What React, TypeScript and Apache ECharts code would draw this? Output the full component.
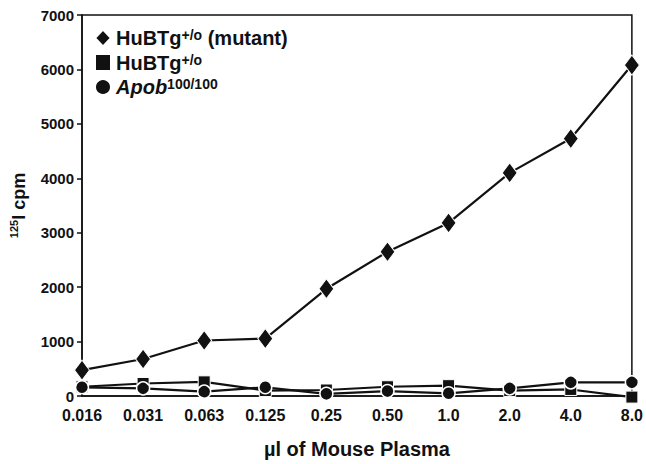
import React, { useEffect, useRef } from "react";
import * as echarts from "echarts";

const categories = ["0.016", "0.031", "0.063", "0.125", "0.25", "0.50", "1.0", "2.0", "4.0", "8.0"];
const mutantValues = [475, 680, 1020, 1055, 1970, 2650, 3180, 4100, 4730, 6080];
const hubtgValues = [170, 230, 260, 100, 110, 170, 190, 100, 120, -20];
const apobValues = [160, 140, 80, 160, 40, 90, 50, 140, 250, 250];
const yTicks = { min: 0, max: 7000, interval: 1000 };

const FONT = "'Liberation Sans', Arial, Helvetica, sans-serif";

export default function App() {
  const ref = useRef<HTMLDivElement>(null);
  useEffect(() => {
    if (!ref.current) return;
    const chart = echarts.init(ref.current, undefined, { renderer: "svg" });
    const lineStyle = { color: "#111", width: 2.2 };
    chart.setOption({
      animation: false,
      backgroundColor: "#fff",
      textStyle: { fontFamily: FONT },
      grid: {
        left: 77, right: 9, top: 15, bottom: 58, show: true,
        borderColor: "#111", borderWidth: 1.5, backgroundColor: "transparent",
      },
      legend: {
        orient: "vertical", left: 89, top: 23, itemGap: 4.5,
        itemWidth: 16, itemHeight: 17,
        data: [
          { name: "mutant", icon: "diamond" },
          { name: "hubtg", icon: "rect" },
          { name: "apob", icon: "circle" },
        ],
        formatter: (n: string) => {
          if (n === "mutant") return "{b|HuBTg}{s|+/o}{b| (mutant)}";
          if (n === "hubtg") return "{b|HuBTg}{s|+/o}";
          return "{i|Apob}{s|100/100}";
        },
        textStyle: {
          rich: {
            b: { fontSize: 20, fontWeight: "bold", color: "#111", fontFamily: FONT, lineHeight: 20, verticalAlign: "bottom" },
            i: { fontSize: 20, fontWeight: "bold", fontStyle: "italic", color: "#111", fontFamily: FONT, lineHeight: 20, verticalAlign: "bottom" },
            s: { fontSize: 14, fontWeight: "bold", color: "#111", fontFamily: FONT, lineHeight: 20, verticalAlign: "top" },
          },
        },
      },
      xAxis: {
        type: "category", data: categories, boundaryGap: false,
        axisLine: { lineStyle: { color: "#111", width: 1.5 } },
        axisTick: { show: false },
        axisLabel: { color: "#111", fontSize: 16, fontWeight: "bold", margin: 11, fontFamily: FONT },
        name: "µl of Mouse Plasma", nameLocation: "middle", nameGap: 43,
        nameTextStyle: { color: "#111", fontSize: 20, fontWeight: "bold", fontFamily: FONT },
      },
      yAxis: {
        type: "value", min: yTicks.min, max: yTicks.max, interval: yTicks.interval,
        splitLine: { show: false },
        axisLine: { show: true, lineStyle: { color: "#111", width: 1.5 } },
        axisTick: { show: true, length: 5, lineStyle: { color: "#111", width: 1.5 } },
        axisLabel: {
          color: "#111", fontSize: 15, fontWeight: "bold", margin: 8, fontFamily: FONT,
          formatter: (v: number) => String(v),
        },
        name: "{s|125}{b|I cpm}", nameLocation: "middle", nameGap: 54, nameRotate: 90,
        nameTextStyle: {
          rich: {
            b: { fontSize: 18, fontWeight: "bold", color: "#111", fontFamily: FONT, lineHeight: 20, verticalAlign: "bottom" },
            s: { fontSize: 11, fontWeight: "bold", color: "#111", fontFamily: FONT, lineHeight: 20, verticalAlign: "top" },
          },
        },
      },
      series: [
        {
          name: "mutant", type: "line", data: mutantValues, clip: false,
          symbol: "diamond", symbolSize: [15, 20],
          lineStyle, itemStyle: { color: "#111", borderColor: "#fff", borderWidth: 1 },
        },
        {
          name: "hubtg", type: "line", data: hubtgValues, clip: false,
          symbol: "rect", symbolSize: 12,
          lineStyle, itemStyle: { color: "#111", borderColor: "#fff", borderWidth: 1 },
        },
        {
          name: "apob", type: "line", data: apobValues, clip: false,
          symbol: "circle", symbolSize: 13,
          lineStyle, itemStyle: { color: "#111", borderColor: "#fff", borderWidth: 1.5 },
        },
      ],
    });
    return () => chart.dispose();
  }, []);
  return <div ref={ref} style={{ width: 646, height: 464, position: "absolute", left: 0, top: 0 }} />;
}
